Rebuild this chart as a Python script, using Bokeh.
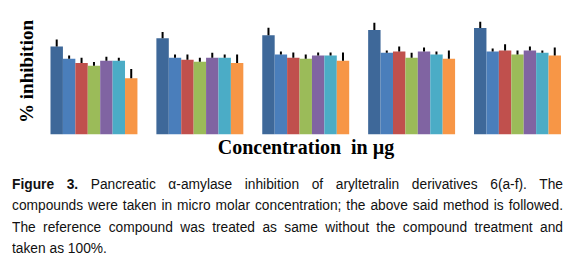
from bokeh.plotting import figure
from bokeh.models import ColumnDataSource, Range1d, FixedTicker, Div
from bokeh.layouts import column
from bokeh.transform import dodge
from bokeh.embed import file_html
from bokeh.resources import INLINE

# --- data (% inhibition, arbitrary scale) ---
concentrations = ["C1", "C2", "C3", "C4", "C5"]
series = ["Reference", "6a", "6b", "6c", "6d", "6e", "6f"]
reference = [86, 94, 97, 102, 104]
c6a = [74, 75, 78, 79.7, 81]
c6b = [69.7, 73, 75, 81, 82]
c6c = [67, 71, 74, 75, 78]
c6d = [72, 75, 77, 81, 82]
c6e = [72, 75, 77, 78, 79.7]
c6f = [55, 69.7, 72, 74, 77]
reference_err = [6.7, 6, 7.3, 7, 6]
c6a_err = [3, 3, 3, 2.3, 3]
c6b_err = [5.3, 5, 5, 5, 6]
c6c_err = [3.7, 4, 4, 4.7, 4]
c6d_err = [4, 4.7, 3, 4, 4]
c6e_err = [3, 3, 3, 3, 2.3]
c6f_err = [9, 8.3, 8, 8, 8]

caption_lines = [
    '<b>Figure 3.</b> Pancreatic &alpha;-amylase inhibition of aryltetralin derivatives 6(a-f). The',
    'compounds were taken in micro molar concentration; the above said method is followed.',
    'The reference compound was treated as same without the compound treatment and',
    'taken as 100%.',
]

colors = ["#3E6899", "#4A7EBB", "#C0504D", "#9BBB59", "#8064A2", "#4BACC6", "#F79646"]

values = [reference, c6a, c6b, c6c, c6d, c6e, c6f]
errors = [reference_err, c6a_err, c6b_err, c6c_err, c6d_err, c6e_err, c6f_err]

data = {"x": list(range(len(concentrations)))}
for i, s in enumerate(series):
    data[s] = values[i]
    data[s + "_top"] = [v + e for v, e in zip(values[i], errors[i])]
source = ColumnDataSource(data)

p = figure(width=575, height=160, output_backend="svg", toolbar_location=None,
           x_range=Range1d(-0.505, 4.51), y_range=Range1d(0, 123),
           min_border_left=40, min_border_right=4, min_border_top=8, min_border_bottom=0)

bw = 0.1173
for i, s in enumerate(series):
    off = (i - 3) * bw
    p.vbar(x=dodge("x", off), top=s, width=bw, source=source,
           fill_color=colors[i], line_color=None)
for i, s in enumerate(series):
    off = (i - 3) * bw
    p.segment(x0=dodge("x", off), y0=s, x1=dodge("x", off), y1=s + "_top",
              source=source, line_color="black", line_width=2)

p.xgrid.visible = False
p.ygrid.visible = False
p.outline_line_color = None
for ax in (p.xaxis[0], p.yaxis[0]):
    ax.ticker = FixedTicker(ticks=[])
    ax.major_tick_line_color = None
    ax.minor_tick_line_color = None
    ax.axis_line_color = None
    ax.major_label_text_font_size = "0px"
    ax.major_label_standoff = 0
    ax.axis_label_text_font = "Liberation Serif"
    ax.axis_label_text_font_style = "bold"
    ax.axis_label_text_color = "black"

p.xaxis.axis_label = "Concentration\u00a0\u00a0in µg"
p.xaxis.axis_label_text_font_size = "20px"
p.xaxis.axis_label_standoff = 1
p.yaxis.axis_label = "% inhibition"
p.yaxis.axis_label_text_font_size = "19px"
p.yaxis.axis_label_standoff = 4

scale = 0.888
inner_w = 551 / scale
rows = []
for k, line in enumerate(caption_lines):
    last = k == len(caption_lines) - 1
    align = "left" if last else "justify"
    rows.append(f'<div style="text-align:{align};text-align-last:{align};white-space:nowrap;">{line}</div>')
html = (f'<div style="font-family:\'Liberation Sans\',sans-serif;font-size:15.5px;line-height:21.3px;'
        f'color:#111;width:{inner_w:.1f}px;transform:scaleX({scale});transform-origin:0 0;">'
        + "".join(rows) + '</div>')

caption = Div(text=html, width=555, margin=(13, 0, 0, 12))

layout = column(p, caption, spacing=0)
open("out.html", "w").write(file_html(layout, INLINE))
